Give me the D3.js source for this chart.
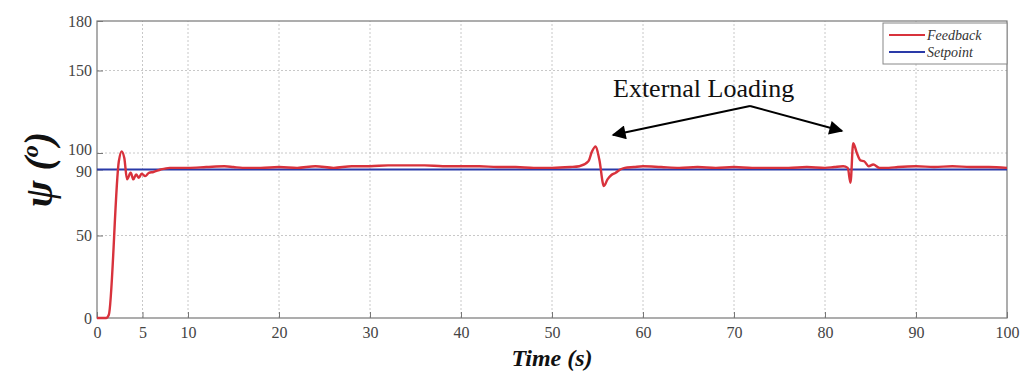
<!DOCTYPE html>
<html>
<head>
<meta charset="utf-8">
<script src="https://cdn.jsdelivr.net/npm/d3@7"></script>
<style>
  body { margin: 0; background: #fff; }
  svg, svg text { font-family: "Liberation Serif", "Times New Roman", serif; }
  .tick text { fill: #444; font-size: 16px; font-family: "Liberation Serif", "Times New Roman", serif; }
  .grid line { stroke: #c8c8c8; stroke-dasharray: 2,2; }
</style>
</head>
<body>
<div id="chart"></div>
<script>
const WIDTH = 1022
const HEIGHT = 376
const MARGIN = { top: 21, right: 15, bottom: 58, left: 97 }

const X_TICKS = [0, 5, 10, 20, 30, 40, 50, 60, 70, 80, 90, 100]
const Y_TICKS = [0, 50, 90, 100, 150, 180]
const GRID_X = [5, 10, 20, 30, 40, 50, 60, 70, 80, 90]
const GRID_Y = [50, 100, 150]

// feedback
const FB_TIME = [0, 1.0, 1.3, 2.4, 2.7, 3.0, 3.3, 3.7, 4.0, 4.3, 4.6, 4.9, 5.3, 5.7, 6.2, 7, 8, 10, 12, 14, 15, 16,
  18, 20, 22, 24, 26, 28, 30, 32, 34, 36, 38, 40, 42, 44, 46, 48, 50, 52, 53, 54, 54.4, 54.8, 55.2, 55.7, 56.1,
  56.5, 57, 57.5, 58, 59, 60, 62, 64, 66, 68, 70, 72, 74, 76, 78, 80, 81, 82, 82.5, 82.8, 83.1, 83.5, 83.9, 84.3,
  84.8, 85.3, 86, 87, 88, 90, 92, 94, 96, 98, 100]
const FB_VALUE = [0, 0, 2, 95, 101, 97, 84, 88, 84, 87, 85, 87.5, 86, 88, 88.5, 90, 91, 91, 91.5, 92, 91.5, 91,
  91, 91.5, 91, 92, 91, 92, 92, 92.5, 92.5, 92.5, 92, 92, 92, 91.5, 91.5, 91, 91, 91.5, 92, 95, 101, 104, 96, 80,
  84, 86.5, 88, 90, 91, 91.5, 92, 91.5, 91, 91.5, 91, 91.5, 91, 91, 91, 91.5, 91, 91.5, 92, 91, 82, 106, 100, 95.5,
  95, 92, 93, 91, 91, 91.5, 92, 91.5, 92, 91.5, 91.5, 91]

const SP_TIME = [0, 100]
const SP_VALUE = [90, 90]

const LEGEND = [
  { name: 'Feedback', color: '#d8323c' },
  { name: 'Setpoint', color: '#2a3aa8' }
]

const SERIF = '"Liberation Serif", "Times New Roman", serif'

const svg = d3.select('#chart').append('svg')
  .attr('width', WIDTH)
  .attr('height', HEIGHT)
  .attr('font-family', SERIF)

const x = d3.scaleLinear().domain([0, 100]).range([MARGIN.left, WIDTH - MARGIN.right])
const y = d3.scaleLinear().domain([0, 180]).range([HEIGHT - MARGIN.bottom, MARGIN.top])

// grid
svg.append('g').attr('class', 'grid')
  .selectAll('line').data(GRID_X).enter().append('line')
    .attr('x1', (d) => x(d)).attr('x2', (d) => x(d))
    .attr('y1', y(0)).attr('y2', y(180))
svg.append('g').attr('class', 'grid')
  .selectAll('line').data(GRID_Y).enter().append('line')
    .attr('x1', x(0)).attr('x2', x(100))
    .attr('y1', (d) => y(d)).attr('y2', (d) => y(d))

// frame
svg.append('rect')
  .attr('x', x(0)).attr('y', y(180))
  .attr('width', x(100) - x(0)).attr('height', y(0) - y(180))
  .attr('fill', 'none').attr('stroke', '#777').attr('stroke-width', 1.2)

// axes
let xAxis = svg.append('g')
  .attr('transform', 'translate(0,' + y(0) + ')')
  .call(d3.axisBottom(x).tickValues(X_TICKS).tickSizeInner(-6).tickSizeOuter(0).tickPadding(9))
let yAxis = svg.append('g')
  .attr('transform', 'translate(' + x(0) + ',0)')
  .call(d3.axisLeft(y).tickValues(Y_TICKS).tickSizeInner(-6).tickSizeOuter(0).tickPadding(5))
;[xAxis, yAxis].forEach((a) => {
  a.attr('font-family', SERIF).attr('font-size', 16)
  a.select('.domain').remove()
  a.selectAll('.tick line').attr('stroke', '#777')
})
yAxis.selectAll('.tick text').attr('dy', (d) => d === 100 ? '0.1em' : d === 90 ? '0.45em' : '0.32em')

// lines
let line = d3.line().x((d) => x(d[0])).y((d) => y(d[1])).curve(d3.curveMonotoneX)

svg.append('path')
  .datum(SP_TIME.map((t, i) => [t, SP_VALUE[i]]))
  .attr('d', line)
  .attr('fill', 'none').attr('stroke', LEGEND[1].color).attr('stroke-width', 2.2)

svg.append('path')
  .datum(FB_TIME.map((t, i) => [t, FB_VALUE[i]]))
  .attr('d', line)
  .attr('fill', 'none').attr('stroke', LEGEND[0].color).attr('stroke-width', 2.4)
  .attr('stroke-linejoin', 'round')

// legend
let legend = svg.append('g').attr('transform', 'translate(883,23)')
legend.append('rect')
  .attr('width', 124).attr('height', 41)
  .attr('fill', '#fff').attr('stroke', '#888')
legend.selectAll('.item').data(LEGEND).enter().append('g')
  .attr('transform', (d, i) => 'translate(0,' + (12 + i * 17) + ')')
  .each(function(d) {
    let g = d3.select(this)
    g.append('line').attr('x1', 6).attr('x2', 42).attr('y1', 0).attr('y2', 0)
      .attr('stroke', d.color).attr('stroke-width', 2)
    g.append('text').attr('x', 44).attr('dy', '0.35em')
      .attr('font-size', 14).attr('font-style', 'italic').attr('fill', '#333')
      .text(d.name)
  })

// annotation
svg.append('defs').append('marker')
  .attr('id', 'arrow').attr('viewBox', '0 0 10 10')
  .attr('refX', 9).attr('refY', 5)
  .attr('markerWidth', 22).attr('markerHeight', 14)
  .attr('markerUnits', 'userSpaceOnUse')
  .attr('orient', 'auto')
  .append('path').attr('d', 'M0,0L10,5L0,10Z').attr('fill', '#000')

svg.append('text')
  .attr('x', 613).attr('y', 97)
  .attr('font-size', 26).attr('fill', '#111')
  .text('External Loading')

svg.append('path').attr('d', 'M750,106L613,135')
  .attr('stroke', '#000').attr('stroke-width', 2).attr('fill', 'none').attr('marker-end', 'url(#arrow)')
svg.append('path').attr('d', 'M750,106L842,131')
  .attr('stroke', '#000').attr('stroke-width', 2).attr('fill', 'none').attr('marker-end', 'url(#arrow)')

// axis titles
let ylab = svg.append('text')
  .attr('transform', 'translate(52,' + y(90) + ') rotate(-90)')
  .attr('text-anchor', 'middle')
  .attr('font-size', 40).attr('font-weight', 'bold').attr('font-style', 'italic').attr('fill', '#111')
ylab.append('tspan').text('ψ (')
ylab.append('tspan').attr('font-size', 24).attr('dy', -14).text('o')
ylab.append('tspan').attr('dy', 14).text(')')

svg.append('text')
  .attr('x', x(50)).attr('y', 366)
  .attr('text-anchor', 'middle')
  .attr('font-size', 24).attr('font-weight', 'bold').attr('font-style', 'italic').attr('fill', '#111')
  .text('Time (s)')
</script>
</body>
</html>
